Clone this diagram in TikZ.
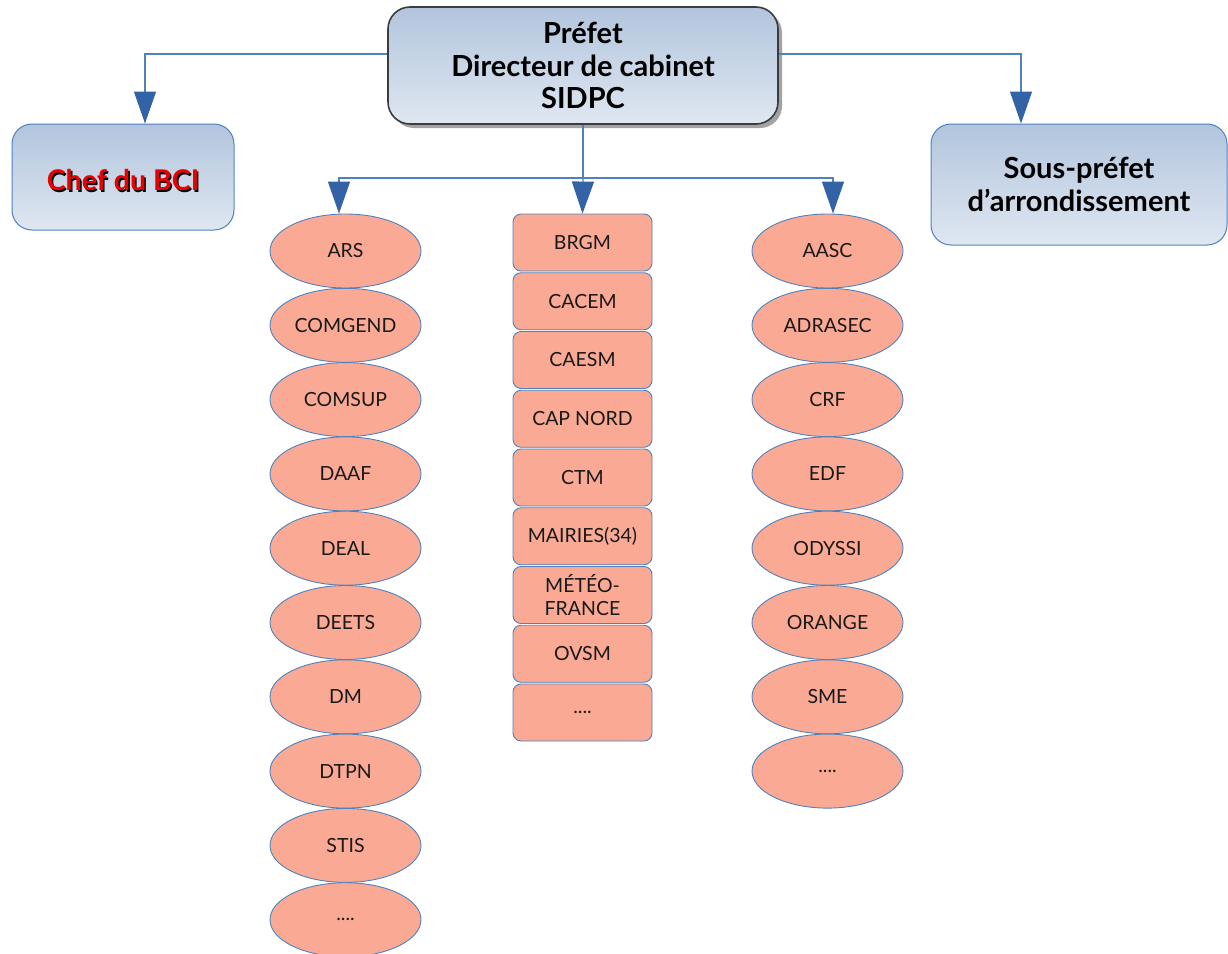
\documentclass[tikz,border=0pt]{standalone}
\usepackage{fontspec}
\setmainfont{Lato}
\usetikzlibrary{arrows.meta,shapes.geometric,shadows}
\newcommand{\fourdots}{....}
\definecolor{salmon}{RGB}{250,170,148}
\definecolor{edgeblue}{RGB}{79,129,189}
\definecolor{tipblue}{RGB}{52,98,166}
\definecolor{boxtop}{RGB}{178,197,221}
\definecolor{boxbot}{RGB}{223,231,241}
\definecolor{titleborder}{RGB}{60,60,60}
\definecolor{bcired}{RGB}{235,0,0}
\tikzset{
  conn/.style={draw=edgeblue, line width=1.3pt},
  tipconn/.style={conn, -{Triangle[length=32pt,width=22pt,fill=tipblue,color=tipblue]}},
  ell/.style={ellipse, draw=edgeblue, line width=0.9pt, fill=salmon,
    minimum width=151pt, minimum height=74pt, inner sep=0pt,
    font=\fontsize{19.5}{23}\selectfont, text=black!90},
  rbox/.style={rectangle, rounded corners=8pt, draw=edgeblue, line width=0.9pt, fill=salmon,
    minimum width=139pt, minimum height=57pt, inner sep=0pt, align=center,
    font=\fontsize{19.5}{23}\selectfont, text=black!90},
  headbox/.style={rectangle, rounded corners=20pt, top color=boxtop, bottom color=boxbot,
    align=center, inner sep=0pt},
}
\begin{document}
\begin{tikzpicture}[x=1pt,y=-1pt]
\useasboundingbox (0,0) rectangle (1228,953);

% top box
\node[headbox, draw=titleborder, line width=1.6pt, rounded corners=22pt,
  drop shadow={shadow xshift=4pt, shadow yshift=-4pt, fill=black!45, opacity=0.8},
  minimum width=390pt, minimum height=117pt,
  font=\fontsize{29}{32.5}\selectfont\bfseries] (top) at (583,65.5)
  {Préfet\\Directeur de cabinet\\SIDPC};

% side boxes
\node[headbox, draw=edgeblue, line width=1pt, minimum width=222pt, minimum height=106pt] (chef) at (123,177) {};
\node[font=\fontsize{28.5}{30}\selectfont\bfseries, text=black, inner sep=0pt] (chefshadow) at (124.6,181.6) {Chef du BCI};
\node[font=\fontsize{28.5}{30}\selectfont\bfseries, text=bcired, inner sep=0pt] (cheftext) at (123,180) {Chef du BCI};

\node[headbox, draw=edgeblue, line width=1pt, minimum width=296pt, minimum height=121pt,
  font=\fontsize{29}{33}\selectfont\bfseries] (sous) at (1079,184.5)
  {Sous-préfet\\d’arrondissement};

% left ellipses
\foreach \t [count=\i from 0] in {ARS,COMGEND,COMSUP,DAAF,DEAL,DEETS,DM,DTPN,STIS,\fourdots}{
  \node[ell] (L\i) at (345.5,{251+74.3*\i}) {\t};
}
% right ellipses
\foreach \t [count=\i from 0] in {AASC,ADRASEC,CRF,EDF,ODYSSI,ORANGE,SME,\fourdots}{
  \node[ell] (R\i) at (827.5,{251+74.3*\i}) {\t};
}
% middle boxes
\foreach \t [count=\i from 0] in {BRGM,CACEM,CAESM,CAP NORD,CTM,MAIRIES(34),{MÉTÉO-\\FRANCE},OVSM,\fourdots}{
  \node[rbox] (M\i) at (582.5,{242.5+58.75*\i}) {\t};
}

% connectors
\coordinate (jl) at (145,54);
\coordinate (jr) at (1021,54);
\coordinate (hub) at (583,178);
\coordinate (al) at (339,178);
\coordinate (ar) at (833,178);

\draw[tipconn] (top.west |- jl) -| (chef.north -| jl);
\draw[tipconn] (top.east |- jr) -| (sous.north -| jr);
\draw[conn] (top.south) -- (hub);
\draw[tipconn] (hub) -| (L0.north -| al);
\draw[tipconn] (hub) -| (R0.north -| ar);
\draw[tipconn] (hub) -- (M0.north);
\end{tikzpicture}
\end{document}
